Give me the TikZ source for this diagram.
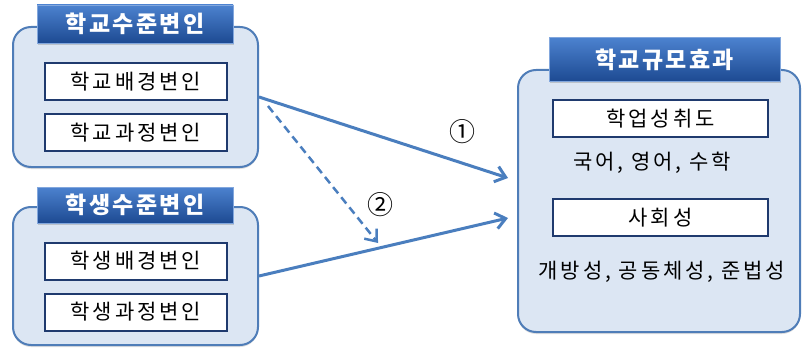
\documentclass[tikz,border=0pt]{standalone}
\usepackage{fontspec}
\usepackage{xcolor}
\newfontfamily\kr[LetterSpace=14]{Noto Sans CJK KR}
\newfontfamily\krhead[LetterSpace=10]{Noto Sans CJK KR}
\usetikzlibrary{arrows.meta,positioning,shadows}

\definecolor{panelfill}{HTML}{DCE6F3}
\definecolor{panelline}{HTML}{4F7DB8}
\definecolor{headtop}{HTML}{4C82CF}
\definecolor{headbot}{HTML}{1D4A92}
\definecolor{itemline}{HTML}{1F3A6E}
\definecolor{linkblue}{HTML}{4A7EBE}

\begin{document}
\begin{tikzpicture}[
        x=1pt, y=-1pt,
        >={Straight Barb[length=10pt,width=16pt]},
        every node/.style={font=\kr\fontsize{21}{24}\selectfont, align=center},
        panel/.style={draw=panelline, line width=2pt, fill=panelfill, rounded corners=18pt,
            drop shadow={opacity=0.25, shadow xshift=0pt, shadow yshift=-2pt}},
        header/.style={draw=headtop!70!white, line width=0.8pt, top color=headtop, bottom color=headbot,
            text=white, font=\krhead\bfseries\fontsize{23}{25}\selectfont, inner sep=0pt,
            drop shadow={opacity=0.35, shadow xshift=1pt, shadow yshift=-2pt}},
        item/.style={draw=itemline, line width=2pt, fill=white, inner sep=0pt, minimum height=37pt},
        link/.style={->, draw=linkblue, line width=3pt},
        mediate/.style={link, line width=2.5pt, dash pattern=on 8pt off 5pt},
        pathno/.style={font=\kr\fontsize{26}{28}\selectfont}
    ]
    \useasboundingbox (0,0) rectangle (803,350);

    % school level
    \node[panel, minimum width=245pt, minimum height=140pt] (school) at (135.5,97) {};
    \node[header, minimum width=196pt, minimum height=38pt] (schoolhead) at (135,24) {학교수준변인};
    \node[item, minimum width=182pt] (sbg) at (136,81.5) {학교배경변인};
    \node[item, minimum width=182pt, below=12pt of sbg] (sproc) {학교과정변인};

    % student level
    \node[panel, minimum width=245pt, minimum height=138pt] (student) at (135.5,276) {};
    \node[header, minimum width=196pt, minimum height=36pt] (studenthead) at (135,205) {학생수준변인};
    \node[item, minimum width=182pt] (tbg) at (136,261) {학생배경변인};
    \node[item, minimum width=182pt, below=12pt of tbg] (tproc) {학생과정변인};

    % school size effect
    \node[panel, minimum width=282pt, minimum height=262pt] (effect) at (659,201) {};
    \node[header, minimum width=231pt, minimum height=44pt] (effecthead) at (664.5,59.5) {학교규모효과};
    \node[item, minimum width=215pt] (achieve) at (660.5,118.5) {학업성취도};
    \node (subjects) at (652,163) {국어, 영어, 수학};
    \node[item, minimum width=215pt] (social) at (660.5,217.5) {사회성};
    \node (traits) at (662,272) {개방성, 공동체성, 준법성};

    % paths
    \coordinate (hit1) at (508,178);
    \coordinate (hit2) at (508,218);
    \draw[link] (school.east) -- (hit1);
    \draw[link] (student.east) -- (hit2);
    \coordinate (mstart) at (268,106);
    \coordinate (mend) at (378,243);
    \draw[mediate] (mstart) -- (mend);

    \node[pathno] (n1) at (462,132) {①};
    \node[pathno] (n2) at (380,205) {②};
\end{tikzpicture}
\end{document}
